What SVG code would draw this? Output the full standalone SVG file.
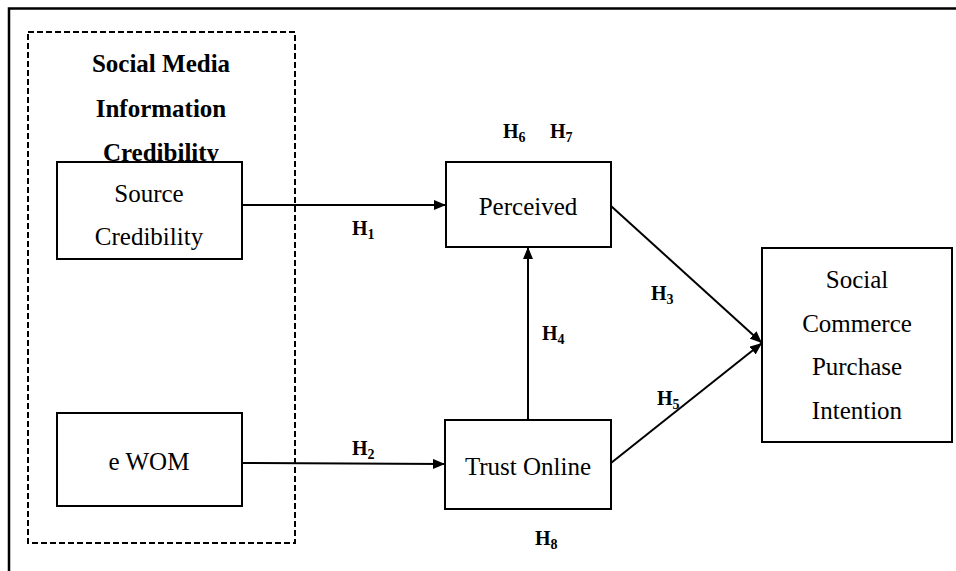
<svg xmlns="http://www.w3.org/2000/svg" width="956" height="571" viewBox="0 0 956 571">
<defs>
<style>
text{font-family:'Liberation Serif','Times New Roman',serif;fill:#000}
.box{fill:#fff;stroke:#000;stroke-width:2}
.t{font-size:25px;text-anchor:middle}
.b{font-size:25px;font-weight:bold;text-anchor:middle}
.h{font-size:20px;font-weight:bold}
.c{stroke:#000;stroke-width:2;fill:none}
</style>
<marker id="arr" viewBox="0 0 12 10" refX="12" refY="5" markerWidth="12" markerHeight="10" markerUnits="userSpaceOnUse" orient="auto">
<path d="M0,0 L12,5 L0,10 Z" fill="#000"/>
</marker>
</defs>
<rect width="956" height="571" fill="#fff"/>
<path d="M9,571 V8.5 H956" stroke="#000" stroke-width="2.5" fill="none"/>
<g id="group-smic" font-family="Liberation Serif, serif">
<rect x="28" y="32" width="267" height="511" fill="none" stroke="#000" stroke-width="2" stroke-dasharray="6,3"/>
<text class="b" x="161" y="72">Social Media</text>
<text class="b" x="161" y="117">Information</text>
<text class="b" x="161" y="161">Credibility</text>
</g>
<g id="connectors" font-family="Liberation Serif, serif">
<line class="c" x1="242" y1="205" x2="446" y2="205" marker-end="url(#arr)"/>
<line class="c" x1="242" y1="463" x2="445" y2="464" marker-end="url(#arr)"/>
<line class="c" x1="528" y1="420" x2="528" y2="247" marker-end="url(#arr)"/>
<line class="c" x1="611" y1="206" x2="762" y2="343" marker-end="url(#arr)"/>
<line class="c" x1="611" y1="463" x2="762" y2="343" marker-end="url(#arr)"/>
<text class="h" x="352" y="235">H<tspan font-size="14" dy="4">1</tspan></text>
<text class="h" x="352" y="455">H<tspan font-size="14" dy="4">2</tspan></text>
<text class="h" x="651" y="300">H<tspan font-size="14" dy="4">3</tspan></text>
<text class="h" x="542" y="340">H<tspan font-size="14" dy="4">4</tspan></text>
<text class="h" x="657" y="405">H<tspan font-size="14" dy="4">5</tspan></text>
<text class="h" x="503" y="138">H<tspan font-size="14" dy="4">6</tspan></text>
<text class="h" x="550" y="138">H<tspan font-size="14" dy="4">7</tspan></text>
<text class="h" x="535" y="545">H<tspan font-size="14" dy="4">8</tspan></text>
</g>
<g id="source-credibility" font-family="Liberation Serif, serif">
<rect class="box" x="57" y="162" width="185" height="97"/>
<text class="t" x="149" y="202">Source</text>
<text class="t" x="149" y="245">Credibility</text>
</g>
<g id="ewom" font-family="Liberation Serif, serif">
<rect class="box" x="57" y="413" width="185" height="93"/>
<text class="t" x="149" y="470">e WOM</text>
</g>
<g id="perceived" font-family="Liberation Serif, serif">
<rect class="box" x="446" y="162" width="165" height="85"/>
<text class="t" x="528" y="215">Perceived</text>
</g>
<g id="trust-online" font-family="Liberation Serif, serif">
<rect class="box" x="445" y="420" width="166" height="89"/>
<text class="t" x="528" y="475">Trust Online</text>
</g>
<g id="social-commerce" font-family="Liberation Serif, serif">
<rect class="box" x="762" y="248" width="190" height="194"/>
<text class="t" x="857" y="288">Social</text>
<text class="t" x="857" y="332">Commerce</text>
<text class="t" x="857" y="375">Purchase</text>
<text class="t" x="857" y="419">Intention</text>
</g>
</svg>
